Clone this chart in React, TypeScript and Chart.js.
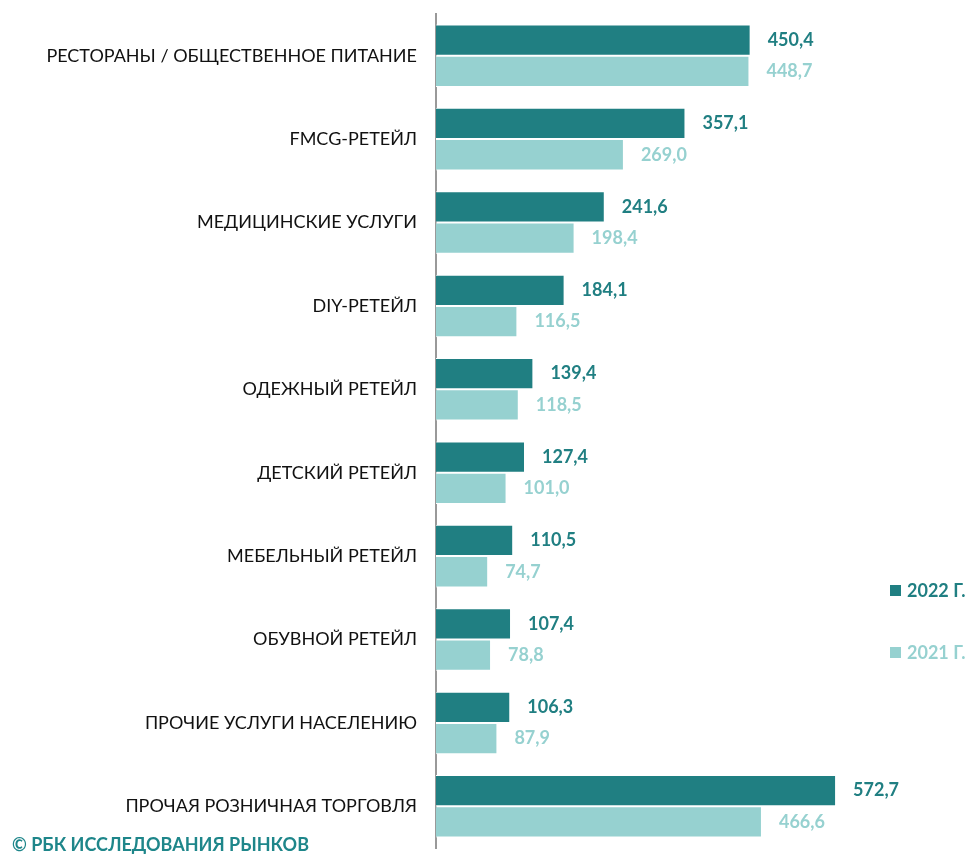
import React, { useEffect, useRef } from "react";
import { Chart, registerables } from "chart.js";

Chart.register(...registerables);

const categories = [
  "РЕСТОРАНЫ / ОБЩЕСТВЕННОЕ ПИТАНИЕ",
  "FMCG-РЕТЕЙЛ",
  "МЕДИЦИНСКИЕ УСЛУГИ",
  "DIY-РЕТЕЙЛ",
  "ОДЕЖНЫЙ РЕТЕЙЛ",
  "ДЕТСКИЙ РЕТЕЙЛ",
  "МЕБЕЛЬНЫЙ РЕТЕЙЛ",
  "ОБУВНОЙ РЕТЕЙЛ",
  "ПРОЧИЕ УСЛУГИ НАСЕЛЕНИЮ",
  "ПРОЧАЯ РОЗНИЧНАЯ ТОРГОВЛЯ",
];
const values2022 = [450.4, 357.1, 241.6, 184.1, 139.4, 127.4, 110.5, 107.4, 106.3, 572.7];
const values2021 = [448.7, 269.0, 198.4, 116.5, 118.5, 101.0, 74.7, 78.8, 87.9, 466.6];
const seriesNames = ["2022 Г.", "2021 Г."];
const footerText = "© РБК ИССЛЕДОВАНИЯ РЫНКОВ";

const DARK = "#207F82";
const LIGHT = "#96D1D0";
const FONT = "Lato, 'Open Sans', sans-serif";

const fmt = (v: number) => v.toFixed(1).replace(".", ",");

const labelsPlugin = {
  id: "customLabels",
  afterDatasetsDraw(chart: any) {
    const ctx = chart.ctx;
    ctx.save();
    chart.data.datasets.forEach((ds: any, di: number) => {
      const meta = chart.getDatasetMeta(di);
      meta.data.forEach((bar: any, i: number) => {
        ctx.font = `bold 18px ${FONT}`;
        ctx.fillStyle = di === 0 ? DARK : LIGHT;
        ctx.textAlign = "left";
        ctx.textBaseline = "middle";
        ctx.fillText(fmt(ds.data[i]), bar.x + 17, bar.y);
      });
    });
    // legend
    const legendY = [591, 653];
    const colors = [DARK, LIGHT];
    seriesNames.forEach((n, i) => {
      ctx.fillStyle = colors[i];
      ctx.fillRect(890, legendY[i] - 6, 11, 11);
      ctx.font = `bold 18px ${FONT}`;
      ctx.textAlign = "left";
      ctx.textBaseline = "middle";
      ctx.fillText(n, 907, legendY[i]);
    });
    // footer
    ctx.fillStyle = "#1E868A";
    ctx.font = `bold 18px ${FONT}`;
    ctx.textAlign = "left";
    ctx.textBaseline = "middle";
    ctx.fillText(footerText, 12, 845);
    ctx.restore();
  },
};

export default function App() {
  const ref = useRef<HTMLCanvasElement>(null);
  useEffect(() => {
    document.body.style.margin = "0";
    const chart = new Chart(ref.current!, {
      type: "bar",
      data: {
        labels: categories,
        datasets: [
          { label: seriesNames[0], data: values2022, backgroundColor: DARK, borderColor: "#ffffff", borderWidth: 1 },
          { label: seriesNames[1], data: values2021, backgroundColor: LIGHT, borderColor: "#ffffff", borderWidth: 1 },
        ],
      },
      options: {
        indexAxis: "y",
        animation: false,
        responsive: false,
        layout: { padding: { top: 14, bottom: 6, right: 46, left: 0 } },
        datasets: { bar: { categoryPercentage: 0.75, barPercentage: 1 } },
        plugins: { legend: { display: false }, tooltip: { enabled: false } },
        scales: {
          x: { display: false, min: 0, max: 700 },
          y: {
            afterFit: (s: any) => {
              s.width = 436;
              s.paddingTop = 0;
              s.paddingBottom = 0;
            },
            grid: { display: false },
            border: { display: true, color: "#999999", width: 2 },
            ticks: { color: "#111111", font: { family: FONT, size: 18 }, padding: 11 },
          },
        },
      },
      plugins: [labelsPlugin],
    });
    return () => chart.destroy();
  }, []);
  return (
    <div style={{ width: 971, height: 854 }}>
      <canvas ref={ref} width={971} height={854} style={{ display: "block" }} />
    </div>
  );
}
